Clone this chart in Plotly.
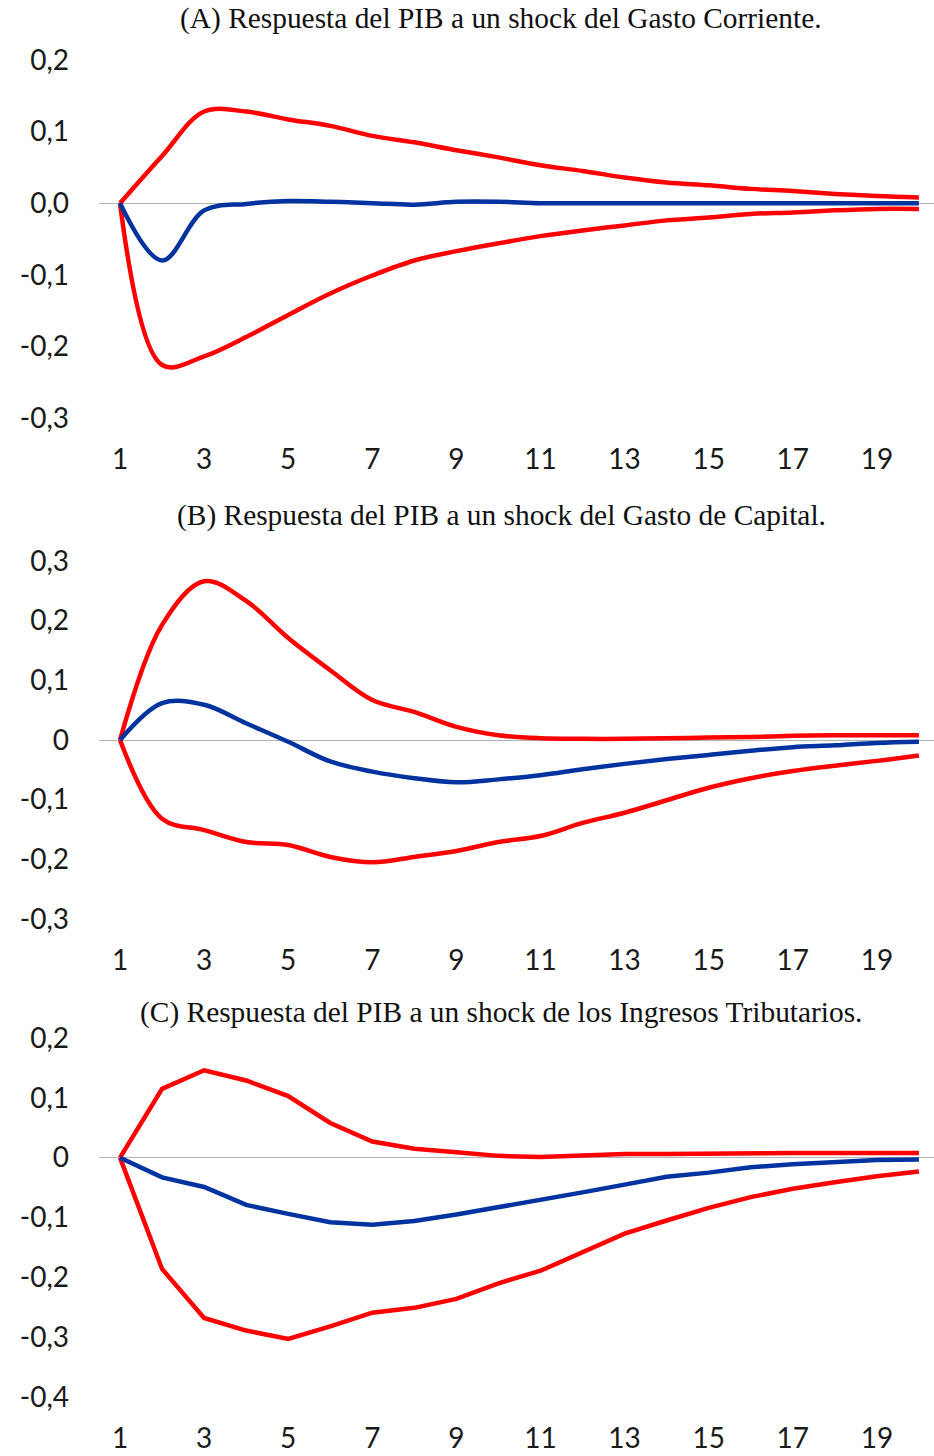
import plotly.graph_objects as go

# Horizonte (periodos)
periodos = list(range(1, 21))

# (A) Respuesta del PIB a un shock del Gasto Corriente
a_sup = [0.0, 0.066, 0.128, 0.128, 0.117, 0.108, 0.094, 0.085, 0.074, 0.064,
         0.053, 0.045, 0.036, 0.029, 0.025, 0.020, 0.017, 0.013, 0.010, 0.008]
a_med = [0.0, -0.080, -0.010, -0.001, 0.003, 0.002, 0.000, -0.002, 0.002, 0.002,
         0.000, 0.000, 0.000, 0.000, 0.000, 0.000, 0.000, 0.000, 0.000, 0.000]
a_inf = [0.0, -0.226, -0.214, -0.187, -0.156, -0.126, -0.101, -0.080, -0.067, -0.056,
         -0.046, -0.038, -0.031, -0.024, -0.020, -0.015, -0.013, -0.010, -0.008, -0.008]

# (B) Respuesta del PIB a un shock del Gasto de Capital
b_sup = [0.0, 0.193, 0.266, 0.233, 0.171, 0.117, 0.067, 0.047, 0.022, 0.008,
         0.003, 0.002, 0.002, 0.003, 0.004, 0.005, 0.007, 0.008, 0.008, 0.008]
b_med = [0.0, 0.062, 0.059, 0.028, -0.003, -0.036, -0.053, -0.064, -0.071, -0.066,
         -0.059, -0.049, -0.040, -0.032, -0.025, -0.018, -0.012, -0.009, -0.005, -0.003]
b_inf = [0.0, -0.132, -0.151, -0.171, -0.176, -0.196, -0.205, -0.196, -0.186, -0.171,
         -0.161, -0.139, -0.122, -0.101, -0.080, -0.064, -0.052, -0.043, -0.035, -0.026]

# (C) Respuesta del PIB a un shock de los Ingresos Tributarios
c_sup = [0.0, 0.115, 0.146, 0.129, 0.103, 0.058, 0.027, 0.015, 0.009, 0.003,
         0.001, 0.003, 0.006, 0.006, 0.007, 0.008, 0.008, 0.008, 0.008, 0.008]
c_med = [0.0, -0.033, -0.049, -0.079, -0.094, -0.108, -0.112, -0.106, -0.095, -0.083,
         -0.071, -0.058, -0.045, -0.032, -0.025, -0.016, -0.011, -0.007, -0.004, -0.003]
c_inf = [0.0, -0.186, -0.268, -0.289, -0.303, -0.282, -0.259, -0.251, -0.236, -0.210,
         -0.189, -0.158, -0.127, -0.105, -0.084, -0.066, -0.052, -0.041, -0.031, -0.023]

titulos = [
    "(A) Respuesta del PIB a un shock del Gasto Corriente.",
    "(B) Respuesta del PIB a un shock del Gasto de Capital.",
    "(C) Respuesta del PIB a un shock de los Ingresos Tributarios.",
]

ticks_x = [1, 3, 5, 7, 9, 11, 13, 15, 17, 19]

ticks_a = [0.2, 0.1, 0.0, -0.1, -0.2, -0.3]
etiq_a = ["0,2", "0,1", "0,0", "-0,1", "-0,2", "-0,3"]
ticks_b = [0.3, 0.2, 0.1, 0.0, -0.1, -0.2, -0.3]
etiq_b = ["0,3", "0,2", "0,1", "0", "-0,1", "-0,2", "-0,3"]
ticks_c = [0.2, 0.1, 0.0, -0.1, -0.2, -0.3, -0.4]
etiq_c = ["0,2", "0,1", "0", "-0,1", "-0,2", "-0,3", "-0,4"]

ROJO = "#FF0000"
AZUL = "#0033A0"
W, H = 934, 1456

paneles = [
    dict(sup=a_sup, med=a_med, inf=a_inf, top=60, bot=418, rng=[-0.3, 0.2],
         tv=ticks_a, tt=etiq_a, shape="spline", ty=19),
    dict(sup=b_sup, med=b_med, inf=b_inf, top=561, bot=919, rng=[-0.3, 0.3],
         tv=ticks_b, tt=etiq_b, shape="spline", ty=515),
    dict(sup=c_sup, med=c_med, inf=c_inf, top=1038, bot=1397, rng=[-0.4, 0.2],
         tv=ticks_c, tt=etiq_c, shape="linear", ty=1012),
]

fig = go.Figure()
tick_font = dict(family="Lato", size=28, color="#1a1a1a")
x_dom = [99 / W, 1.0]

for i, p in enumerate(paneles):
    n = "" if i == 0 else str(i + 1)
    xa, ya = "x" + n, "y" + n
    for serie, color in ((p["sup"], ROJO), (p["inf"], ROJO), (p["med"], AZUL)):
        fig.add_trace(go.Scatter(
            x=periodos, y=serie, xaxis=xa, yaxis=ya, mode="lines",
            line=dict(color=color, width=4.5, shape=p["shape"], smoothing=1.0),
            showlegend=False, hoverinfo="skip",
        ))
    dom_y = [1 - p["bot"] / H, 1 - p["top"] / H]
    fig.update_layout({
        "xaxis" + n: dict(
            domain=x_dom, range=[0.5, 1 + (934 - 119) / 42.1], automargin=False,
            tickvals=ticks_x, ticktext=[str(t) for t in ticks_x],
            showgrid=False, zeroline=False, showline=False, ticks="",
            tickfont=tick_font, ticklabelstandoff=22, anchor=ya,
        ),
        "yaxis" + n: dict(
            domain=dom_y, range=p["rng"], tickvals=p["tv"], ticktext=p["tt"],
            automargin=False, showgrid=False, zeroline=True,
            zerolinecolor="#B4B4B4", zerolinewidth=1.2,
            showline=False, ticks="", tickfont=tick_font, ticklabelstandoff=29,
            anchor=xa,
        ),
    })
    fig.add_annotation(
        text=titulos[i], xref="paper", yref="paper", x=501 / W, y=1 - p["ty"] / H,
        xanchor="center", yanchor="middle", showarrow=False,
        font=dict(family="Liberation Serif", size=29.4, color="#111111"),
    )

fig.update_layout(
    width=W, height=H, margin=dict(l=0, r=0, t=0, b=0),
    paper_bgcolor="white", plot_bgcolor="white",
)

fig.write_html("out.html")
